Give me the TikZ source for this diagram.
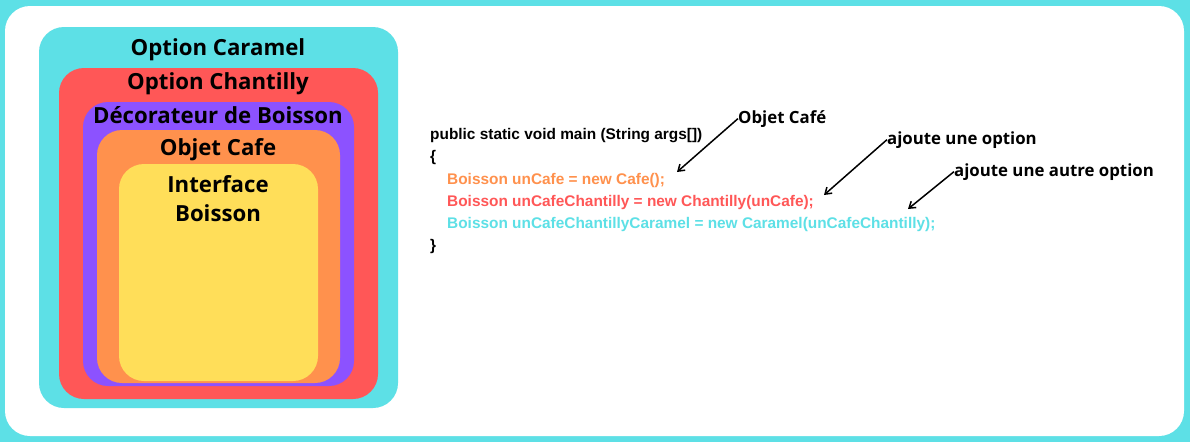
\documentclass[tikz,border=0pt]{standalone}
\usepackage{fontspec}
\setmainfont{Open Sans}
\newfontfamily\codefont{Liberation Sans}
\usetikzlibrary{arrows.meta}

\definecolor{caramel}{HTML}{5DE0E6}
\definecolor{chantilly}{HTML}{FF5757}
\definecolor{decor}{HTML}{8C52FF}
\definecolor{cafe}{HTML}{FF914D}
\definecolor{boisson}{HTML}{FFDE59}

\tikzset{
  couche/.style={rounded corners=25pt},
  titre/.style={anchor=base, font=\bfseries\fontsize{22.2}{29}\selectfont, inner sep=0pt},
  code/.style={anchor=base west, inner sep=0pt, font=\codefont\bfseries\fontsize{15.4}{17}\selectfont},
  remarque/.style={anchor=base west, inner sep=0pt, font=\bfseries\fontsize{16.8}{19}\selectfont},
  fleche/.style={-{Straight Barb[length=6pt,width=8pt]}, line width=1.5pt},
}

\begin{document}
\begin{tikzpicture}[x=1pt, y=-1pt]

  % Bounding box of the scheme
  \useasboundingbox (0,0) rectangle (1190,442) ;

  %%%%%%%%%%%%%%%%%%%%%%%%%%%%%%%%% Fond %%%%%%%%%%%%%%%%%%%%%%%%%%%%%%%%%%%%
  \fill[caramel] (0,0) rectangle (1190,442) ;
  \fill[white, couche] (5,6) rectangle (1184,436) ;

  %%%%%%%%%%%%%%%%%%%%%%%%%%%%%%%%% Couches du decorateur %%%%%%%%%%%%%%%%%%%%%%%%%%%%%%%%%%%%
  \fill[caramel, couche]   (39,27)   rectangle (398,408) ;
  \fill[chantilly, couche] (59,68)   rectangle (378,399) ;
  \fill[decor, couche]     (83,102)  rectangle (354,386) ;
  \fill[cafe, couche]      (97,130)  rectangle (340,383) ;
  \fill[boisson, couche]   (119,164) rectangle (318,381) ;

  % Titres des couches
  \draw (218,55)  node[titre] (tcaramel)   {Option Caramel} ;
  \draw (218,89)  node[titre] (tchantilly) {Option Chantilly} ;
  \draw (218,123) node[titre] (tdecor)     {Décorateur de Boisson} ;
  \draw (218,155) node[titre] (tcafe)      {Objet Cafe} ;
  \draw (218,192) node[titre] (tinterface) {Interface} ;
  \draw (218,221) node[titre] (tboisson)   {Boisson} ;

  %%%%%%%%%%%%%%%%%%%%%%%%%%%%%%%%% Code %%%%%%%%%%%%%%%%%%%%%%%%%%%%%%%%%%%%
  \draw (430,139) node[code] (c1) {public static void main (String args[])} ;
  \draw (430,161) node[code] (c2) {\{} ;
  \draw (447,184) node[code, text=cafe] (c3) {Boisson unCafe = new Cafe();} ;
  \draw (447,206) node[code, text=chantilly] (c4) {Boisson unCafeChantilly = new Chantilly(unCafe);} ;
  \draw (447,228) node[code, text=caramel] (c5) {Boisson unCafeChantillyCaramel = new Caramel(unCafeChantilly);} ;
  \draw (430,250) node[code] (c6) {\}} ;

  %%%%%%%%%%%%%%%%%%%%%%%%%%%%%%%%% Remarques %%%%%%%%%%%%%%%%%%%%%%%%%%%%%%%%%%%%
  \draw (738,123) node[remarque] (r1) {Objet Café} ;
  \draw (887,144) node[remarque] (r2) {ajoute une option} ;
  \draw (954,176) node[remarque] (r3) {ajoute une autre option} ;

  % Pointes des fleches
  \coordinate (p1) at (677,172) ;
  \coordinate (p2) at (824,195) ;
  \coordinate (p3) at (908,209) ;

  \foreach \i in {1,2,3} {
    \draw[fleche] (r\i.west) -- (p\i) ;
  }

\end{tikzpicture}
\end{document}
